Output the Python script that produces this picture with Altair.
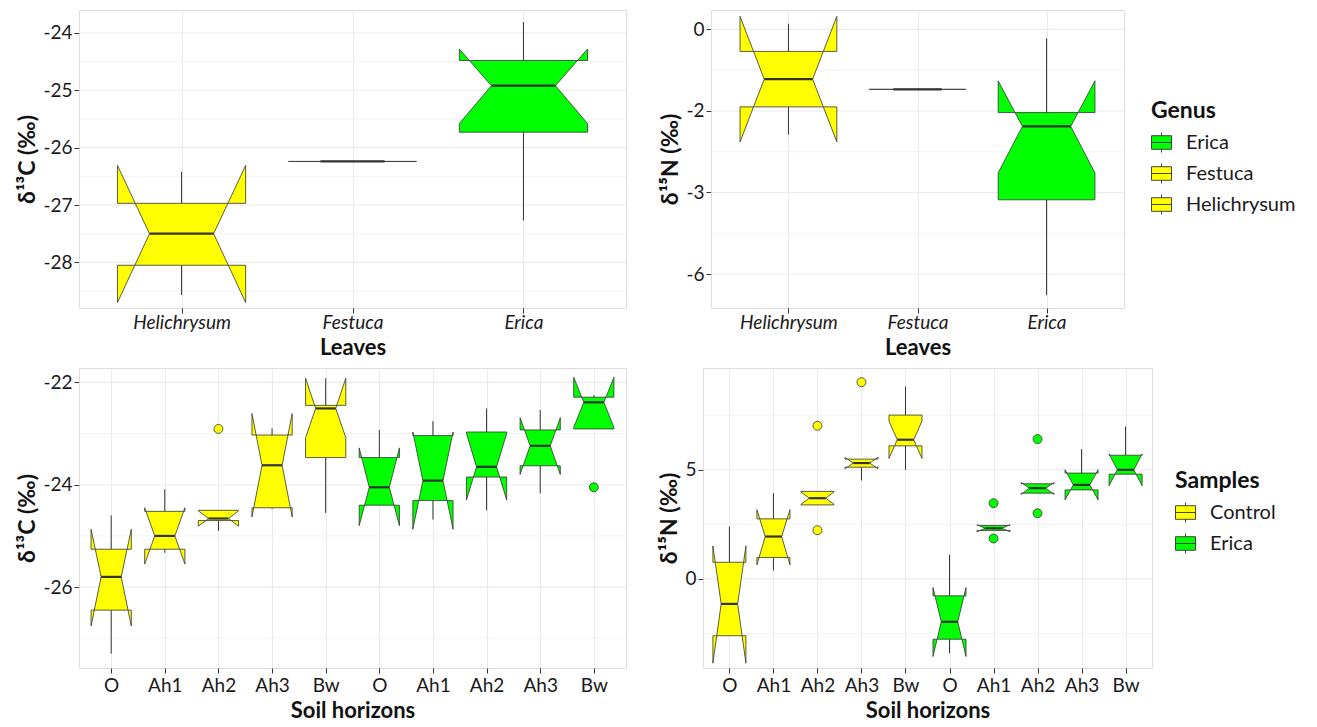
import altair as alt
import pandas as pd

YELLOW = "#FFFF00"
GREEN = "#00FF00"
EDGE = "#333333"
GRID = "#EBEBEB"
FONT = "Lato"
BOXW = 0.75
NOTCHW = 0.5

# ---------------- Leaves : delta 13C ----------------
leaf_cats = ["Helichrysum", "Festuca", "Erica"]
leaf_c_wlo = [-28.57, -26.24, -27.27]
leaf_c_q1 = [-28.05, -26.24, -25.73]
leaf_c_med = [-27.50, -26.24, -24.92]
leaf_c_q3 = [-26.97, -26.24, -24.48]
leaf_c_whi = [-26.42, -26.24, -23.81]
leaf_c_nlo = [-28.70, -26.24, -25.58]
leaf_c_nhi = [-26.31, -26.24, -24.28]
leaf_c_ticks = [-28, -27, -26, -25, -24]
leaf_c_ticklabels = ["-28", "-27", "-26", "-25", "-24"]
leaf_c_minor = [-28.5, -27.5, -26.5, -25.5, -24.5]

# ---------------- Leaves : delta 15N (axis printed as in the figure) ----------------
leaf_n_wlo = [-1.29, -0.735, -3.26]
leaf_n_q1 = [-0.95, -0.735, -2.09]
leaf_n_med = [-0.61, -0.735, -1.19]
leaf_n_q3 = [-0.27, -0.735, -1.02]
leaf_n_whi = [0.07, -0.735, -0.11]
leaf_n_nlo = [-1.38, -0.735, -1.76]
leaf_n_nhi = [0.16, -0.735, -0.63]
leaf_n_ticks = [0, -1, -2, -3]
leaf_n_ticklabels = ["0", "-2", "-3", "-6"]
leaf_n_minor = [-0.5, -1.5, -2.5]

# ---------------- Soil horizons ----------------
soil_cats = ["O", "Ah1", "Ah2", "Ah3", "Bw", "O", "Ah1", "Ah2", "Ah3", "Bw"]
soil_groups = ["Control"] * 5 + ["Erica"] * 5

soil_c_wlo = [-27.30, -25.33, -24.90, -24.47, -24.55, -24.40, -24.68, -24.50, -24.17, -22.91]
soil_c_q1 = [-26.45, -25.26, -24.70, -24.45, -23.47, -24.40, -24.31, -23.85, -23.63, -22.91]
soil_c_med = [-25.80, -25.00, -24.66, -23.62, -22.51, -24.05, -23.92, -23.65, -23.24, -22.39]
soil_c_q3 = [-25.26, -24.52, -24.50, -23.03, -22.45, -23.47, -23.04, -22.97, -22.93, -22.29]
soil_c_whi = [-24.60, -24.09, -24.50, -22.90, -21.92, -22.93, -22.76, -22.51, -22.54, -22.25]
soil_c_nlo = [-26.76, -25.55, -24.81, -24.63, -23.08, -24.80, -24.87, -24.30, -23.80, -22.88]
soil_c_nhi = [-24.87, -24.45, -24.51, -22.61, -21.92, -23.28, -22.97, -23.00, -22.69, -21.90]
soil_c_out_pos = [3, 10]
soil_c_out_val = [-22.91, -24.05]
soil_c_ticks = [-26, -24, -22]
soil_c_ticklabels = ["-26", "-24", "-22"]
soil_c_minor = [-27, -25, -23]

soil_n_wlo = [-2.61, 0.38, 3.39, 4.51, 5.00, -3.41, 2.22, 3.93, 4.08, 4.80]
soil_n_q1 = [-2.61, 0.98, 3.39, 5.12, 6.10, -2.77, 2.22, 3.93, 4.08, 4.80]
soil_n_med = [-1.15, 1.94, 3.70, 5.31, 6.38, -1.97, 2.32, 4.16, 4.31, 5.00]
soil_n_q3 = [0.76, 2.75, 4.01, 5.49, 7.51, -0.78, 2.45, 4.36, 4.85, 5.67]
soil_n_whi = [2.40, 3.93, 4.01, 5.49, 8.82, 1.10, 2.45, 4.36, 5.95, 6.99]
soil_n_nlo = [-3.87, 0.64, 3.42, 5.05, 5.52, -3.56, 2.16, 3.87, 3.62, 4.27]
soil_n_nhi = [1.51, 3.17, 3.98, 5.57, 7.24, -0.40, 2.48, 4.42, 5.00, 5.73]
soil_n_out_pos = [3, 3, 4, 7, 7, 8, 8]
soil_n_out_val = [7.02, 2.23, 9.02, 3.47, 1.85, 6.41, 3.01]
soil_n_ticks = [0, 5]
soil_n_ticklabels = ["0", "5"]
soil_n_minor = [-2.5, 2.5, 7.5]

LEGEND_PATH = "M-1,-0.68L1,-0.68L1,0.68L-1,0.68Z M-1,0L1,0 M0,-0.68L0,-1 M0,0.68L0,1"


def box_tables(groups, wlo, q1, med, q3, whi, nlo, nhi):
    area_rows, med_rows, wh_rows = [], [], []
    half = BOXW / 2
    ind = BOXW * (1 - NOTCHW) / 2
    for i, g in enumerate(groups):
        p = i + 1
        lo, a, m, b, hi, nl, nu = wlo[i], q1[i], med[i], q3[i], whi[i], nlo[i], nhi[i]
        xmin, xmax = p - half, p + half

        def inset(y):
            if y >= m:
                d = nu - m
                t = 1.0 if d <= 0 else max(0.0, 1 - (y - m) / d)
            else:
                d = m - nl
                t = 1.0 if d <= 0 else max(0.0, 1 - (m - y) / d)
            return ind * t

        if b - a <= 1e-9:
            pts = [(a, xmin, xmax), (b, xmin, xmax)]
        else:
            ys = sorted({a, b, m} | {v for v in (nl, nu) if a < v < b})
            pts = [(y, xmin + inset(y), xmax - inset(y)) for y in ys]
        pieces = [("core", pts)]
        if b > a and nu > b:
            s = inset(b)
            pieces.append(("ul", [(b, xmin, xmin + s), (nu, xmin, xmin)]))
            pieces.append(("ur", [(b, xmax - s, xmax), (nu, xmax, xmax)]))
        if b > a and nl < a:
            s = inset(a)
            pieces.append(("ll", [(nl, xmin, xmin), (a, xmin, xmin + s)]))
            pieces.append(("lr", [(nl, xmax, xmax), (a, xmax - s, xmax)]))
        for name, pp in pieces:
            for y, xl, xr in pp:
                area_rows.append({"piece": f"{i}-{name}", "y": y, "xl": xl, "xr": xr, "grp": g})
        s = inset(m)
        med_rows.append({"y": m, "xl": xmin + s, "xr": xmax - s})
        wh_rows.append({"x": p, "y": b, "y2": hi})
        wh_rows.append({"x": p, "y": lo, "y2": a})
    return pd.DataFrame(area_rows), pd.DataFrame(med_rows), pd.DataFrame(wh_rows)


def label_expr(vals, labels):
    parts = [f"abs(datum.value - ({v})) < 0.001 ? '{l}'" for v, l in zip(vals, labels)]
    return " : ".join(parts) + " : ''"


def panel(groups, stats, outs, cats, ydom, ymaj, ylab, ymin, ytitle, xtitle, italic,
          cdomain, crange, legend, width, height, xlabpad):
    area_df, med_df, wh_df = box_tables(groups, *stats)
    n = len(cats)
    xs = alt.Scale(domain=[0.4, n + 0.6], nice=False, zero=False)
    ys = alt.Scale(domain=ydom, nice=False, zero=False)
    xpos = list(range(1, n + 1))
    xaxis = alt.Axis(
        values=xpos, labelExpr=label_expr(xpos, cats), title=xtitle, grid=True,
        gridColor=GRID, gridWidth=1.1, domain=False, tickColor=EDGE, tickSize=5,
        tickWidth=1, labelFont=FONT, labelFontSize=19, labelColor="#1a1a1a",
        labelFontStyle="italic" if italic else "normal", labelAngle=0, labelPadding=xlabpad,
        labelFlush=False, labelOverlap=False, titleFont=FONT, titleFontSize=22,
        titleFontWeight="bold", titleColor="#111111", titlePadding=5,
    )
    yaxis = alt.Axis(
        values=ymaj, labelExpr=label_expr(ymaj, ylab), title=ytitle, grid=False,
        domain=False, tickColor=EDGE, tickSize=5, tickWidth=1, labelFont=FONT,
        labelFontSize=19, labelColor="#1a1a1a", labelPadding=2, labelFlush=False,
        labelOverlap=False, titleFont=FONT, titleFontSize=23, titleFontWeight="bold",
        titleColor="#111111", titlePadding=3,
    )
    cscale = alt.Scale(domain=cdomain, range=crange)
    color = alt.Color("grp:N", scale=cscale, legend=legend)

    grid_major = alt.Chart(pd.DataFrame({"v": ymaj})).mark_rule(
        color=GRID, strokeWidth=1.1
    ).encode(y=alt.Y("v:Q", scale=ys, axis=yaxis))
    grid_minor = alt.Chart(pd.DataFrame({"v": ymin})).mark_rule(
        color=GRID, strokeWidth=0.6
    ).encode(y=alt.Y("v:Q", scale=ys))
    whisk = alt.Chart(wh_df).mark_rule(color=EDGE, strokeWidth=1).encode(
        x=alt.X("x:Q", scale=xs, axis=xaxis),
        y=alt.Y("y:Q", scale=ys),
        y2="y2:Q",
    )
    box = alt.Chart(area_df).mark_area(
        orient="horizontal", stroke=EDGE, strokeWidth=0.8, opacity=1, fillOpacity=1
    ).encode(
        y=alt.Y("y:Q", scale=ys),
        x=alt.X("xl:Q", scale=xs, stack=None),
        x2="xr:Q",
        color=color,
        detail="piece:N",
    )
    medl = alt.Chart(med_df).mark_rule(color=EDGE, strokeWidth=2.2).encode(
        x=alt.X("xl:Q", scale=xs), x2="xr:Q", y=alt.Y("y:Q", scale=ys)
    )
    layers = [grid_major, grid_minor, whisk, box, medl]
    if outs is not None:
        opos, oval = outs
        out_df = pd.DataFrame({"x": opos, "y": oval, "grp": [groups[p - 1] for p in opos]})
        pts = alt.Chart(out_df).mark_circle(size=80, stroke=EDGE, strokeWidth=0.8, opacity=1).encode(
            x=alt.X("x:Q", scale=xs), y=alt.Y("y:Q", scale=ys), color=color
        )
        layers.append(pts)
    return alt.layer(*layers).properties(width=width, height=height)


def make_legend(title, lx, ly):
    return alt.Legend(
        title=title, orient="none", legendX=lx, legendY=ly, symbolType=LEGEND_PATH,
        symbolSize=400, symbolStrokeColor=EDGE, symbolStrokeWidth=0.9, symbolOpacity=1,
        labelFont=FONT, labelFontSize=20, labelColor="#1a1a1a", labelOffset=14,
        titleFont=FONT, titleFontSize=23, titleFontWeight="bold", titleColor="#111111",
        titlePadding=9, rowPadding=6, padding=0,
    )


leaf_groups = leaf_cats
genus_domain = ["Erica", "Festuca", "Helichrysum"]
genus_range = [GREEN, YELLOW, YELLOW]
sample_domain = ["Control", "Erica"]
sample_range = [YELLOW, GREEN]

tl = panel(leaf_groups,
           (leaf_c_wlo, leaf_c_q1, leaf_c_med, leaf_c_q3, leaf_c_whi, leaf_c_nlo, leaf_c_nhi),
           None, leaf_cats, [-28.795, -23.60], leaf_c_ticks, leaf_c_ticklabels, leaf_c_minor,
           "δ¹³C (‰)", "Leaves", True, genus_domain, genus_range, None, 547, 298, 0)
tr = panel(leaf_groups,
           (leaf_n_wlo, leaf_n_q1, leaf_n_med, leaf_n_q3, leaf_n_whi, leaf_n_nlo, leaf_n_nhi),
           None, leaf_cats, [-3.417, 0.238], leaf_n_ticks, leaf_n_ticklabels, leaf_n_minor,
           "δ¹⁵N (‰)", "Leaves", True, genus_domain, genus_range,
           make_legend("Genus", 440, 90), 413, 298, 0)
bl = panel(soil_groups,
           (soil_c_wlo, soil_c_q1, soil_c_med, soil_c_q3, soil_c_whi, soil_c_nlo, soil_c_nhi),
           (soil_c_out_pos, soil_c_out_val), soil_cats, [-27.58, -21.72], soil_c_ticks,
           soil_c_ticklabels, soil_c_minor, "δ¹³C (‰)", "Soil horizons", False,
           sample_domain, sample_range, None, 547, 300, 3)
br = panel(soil_groups,
           (soil_n_wlo, soil_n_q1, soil_n_med, soil_n_q3, soil_n_whi, soil_n_nlo, soil_n_nhi),
           (soil_n_out_pos, soil_n_out_val), soil_cats, [-4.09, 9.67], soil_n_ticks,
           soil_n_ticklabels, soil_n_minor, "δ¹⁵N (‰)", "Soil horizons", False,
           sample_domain, sample_range, make_legend("Samples", 472, 102), 449, 300, 3)

top = alt.hconcat(tl, tr, spacing=31).resolve_scale(color="independent")
bottom = alt.hconcat(bl, br, spacing=30).resolve_scale(color="independent")

chart = (
    alt.vconcat(top, bottom, spacing=8)
    .resolve_scale(color="independent")
    .properties(padding={"left": 16, "top": 9, "right": 0, "bottom": 0}, background="white")
    .configure_view(stroke=EDGE, strokeWidth=1.2)
    .configure(font=FONT)
)

chart.save("out.html", embed_options={"renderer": "svg", "actions": False})
